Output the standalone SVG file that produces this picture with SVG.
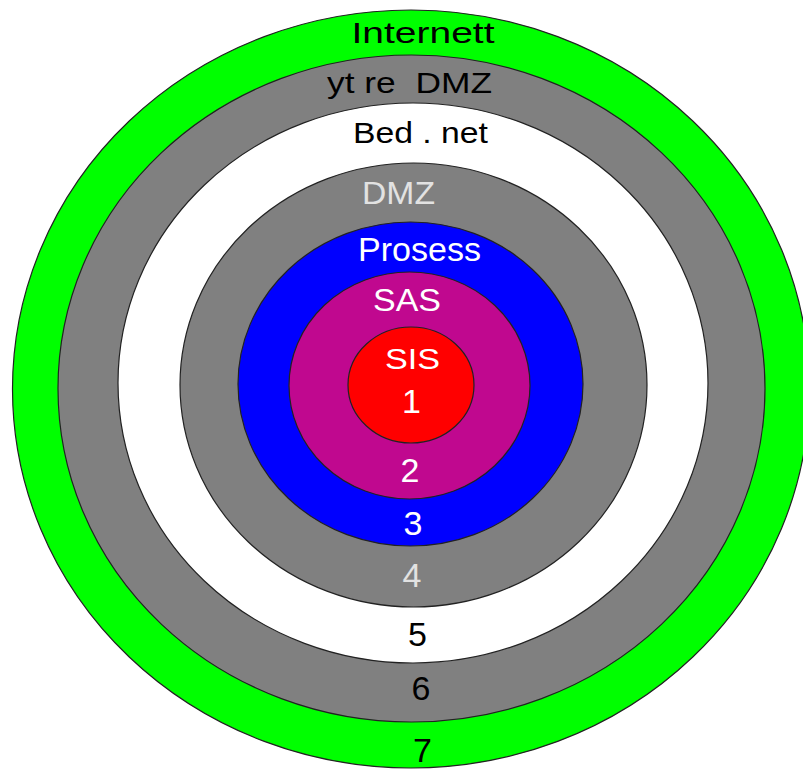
<svg xmlns="http://www.w3.org/2000/svg" width="803" height="769" viewBox="0 0 803 769">
  <style>
    .ring { stroke: #222222; stroke-width: 1.2; }
    .lbl { font-family: "Liberation Sans", Arial, sans-serif; text-anchor: middle; }
    .dark { fill: #000000; }
    .light { fill: #ffffff; }
    .grey { fill: #e2e2e2; }
  </style>
  <rect width="803" height="769" fill="#ffffff"/>

  <!-- zone 7: Internett -->
  <g id="zone-internett">
    <ellipse class="ring" cx="411" cy="389" rx="398.5" ry="379" fill="#00ff00"/>
    <text class="lbl dark" x="423" y="43" font-size="30" textLength="143" lengthAdjust="spacingAndGlyphs">Internett</text>
    <text class="lbl dark" x="422.5" y="762" font-size="34">7</text>
  </g>

  <!-- zone 6: outer DMZ -->
  <g id="zone-outer-dmz">
    <ellipse class="ring" cx="411.5" cy="388.5" rx="353.5" ry="333.5" fill="#808080"/>
    <text class="lbl dark" x="409.5" y="93" font-size="30" textLength="165" lengthAdjust="spacingAndGlyphs" xml:space="preserve">yt re  DMZ</text>
    <text class="lbl dark" x="421" y="700" font-size="34">6</text>
  </g>

  <!-- zone 5: company network -->
  <g id="zone-bed-net">
    <ellipse class="ring" cx="413" cy="383" rx="295" ry="280" fill="#ffffff"/>
    <text class="lbl dark" x="420.5" y="143" font-size="29" textLength="135" lengthAdjust="spacingAndGlyphs">Bed . net</text>
    <text class="lbl dark" x="417.5" y="646" font-size="34">5</text>
  </g>

  <!-- zone 4: DMZ -->
  <g id="zone-dmz">
    <ellipse class="ring" cx="413.5" cy="385" rx="233.5" ry="222" fill="#808080"/>
    <text class="lbl grey" x="398.5" y="204" font-size="32" textLength="73" lengthAdjust="spacingAndGlyphs">DMZ</text>
    <text class="lbl grey" x="412" y="587" font-size="34">4</text>
  </g>

  <!-- zone 3: process -->
  <g id="zone-prosess">
    <ellipse class="ring" cx="410.5" cy="384" rx="172.5" ry="162" fill="#0000ff"/>
    <text class="lbl light" x="419.5" y="261" font-size="33" textLength="123" lengthAdjust="spacingAndGlyphs">Prosess</text>
    <text class="lbl light" x="413" y="535" font-size="34">3</text>
  </g>

  <!-- zone 2: SAS -->
  <g id="zone-sas">
    <ellipse class="ring" cx="409.5" cy="385.5" rx="120.5" ry="113.5" fill="#c0088f"/>
    <text class="lbl light" x="407" y="311" font-size="32" textLength="68" lengthAdjust="spacingAndGlyphs">SAS</text>
    <text class="lbl light" x="410" y="482" font-size="34">2</text>
  </g>

  <!-- zone 1: SIS -->
  <g id="zone-sis">
    <ellipse class="ring" cx="411" cy="385" rx="63" ry="58" fill="#ff0000"/>
    <text class="lbl light" x="412.5" y="369" font-size="30" textLength="55" lengthAdjust="spacingAndGlyphs">SIS</text>
    <text class="lbl light" x="411.5" y="413" font-size="34">1</text>
  </g>

  <!-- no connectors in this diagram -->
  <g id="connectors"/>
</svg>
